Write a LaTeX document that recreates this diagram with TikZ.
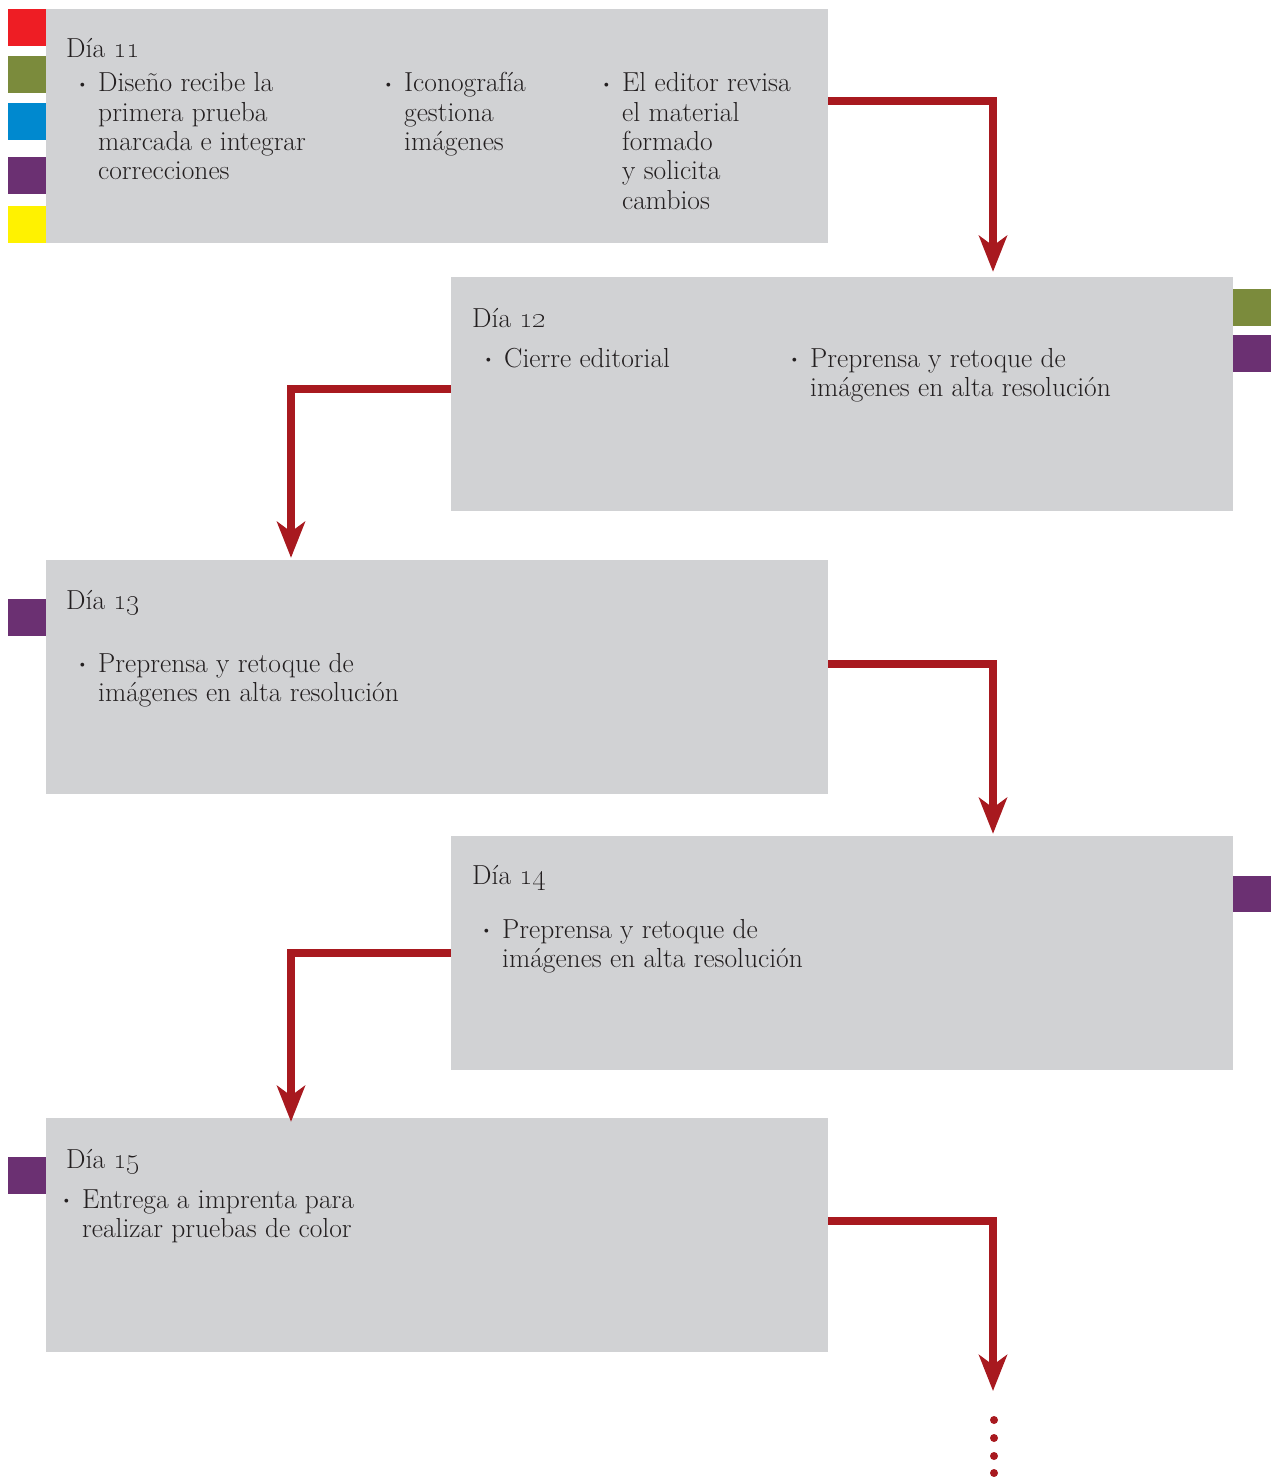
\documentclass[tikz,border=0pt]{standalone}
\usetikzlibrary{arrows.meta}
\definecolor{boxgray}{HTML}{D1D2D4}
\definecolor{arrred}{HTML}{A8191F}
\definecolor{sqred}{HTML}{EE1D24}
\definecolor{sqgreen}{HTML}{7B8B3C}
\definecolor{sqblue}{HTML}{0089CF}
\definecolor{sqpurple}{HTML}{6B3072}
\definecolor{sqyellow}{HTML}{FFF200}
\definecolor{txtcol}{HTML}{231F20}
\newcommand{\bitem}[1]{\makebox[18pt][l]{\hspace*{-3pt}\raisebox{3.5pt}{\fontsize{14}{14}\selectfont\textbullet}}\begin{tabular}[t]{@{}l@{}}#1\end{tabular}}
\begin{document}
\begin{tikzpicture}[x=1pt,y=-1pt,
  daybox/.style={fill=boxgray,draw=none,minimum width=782pt,minimum height=234pt,inner sep=0pt},
  txt/.style={anchor=base west,inner sep=0pt,text=txtcol,font=\fontsize{27.5}{29.3}\selectfont},
  arr/.style={draw=arrred,line width=8pt,line join=miter,-{Stealth[length=36pt,width=28pt,inset=10pt]}},
  sq/.style={fill=#1,draw=none}]
\useasboundingbox (0,0) rectangle (1277,1477);
% boxes
\node[daybox] (d11) at (437,126) {};
\node[daybox] (d12) at (842,394) {};
\node[daybox] (d13) at (437,677) {};
\node[daybox] (d14) at (842,953) {};
\node[daybox] (d15) at (437,1235) {};
% colour squares
\fill[sq=sqred] (8,9) rectangle (46,46);
\fill[sq=sqgreen] (8,56) rectangle (46,93);
\fill[sq=sqblue] (8,103) rectangle (46,140);
\fill[sq=sqpurple] (8,157) rectangle (46,194);
\fill[sq=sqyellow] (8,206) rectangle (46,243);
\fill[sq=sqgreen] (1233,289) rectangle (1271,326);
\fill[sq=sqpurple] (1233,335) rectangle (1271,372);
\fill[sq=sqpurple] (8,599) rectangle (46,636);
\fill[sq=sqpurple] (1233,876) rectangle (1271,912);
\fill[sq=sqpurple] (8,1157) rectangle (46,1194);
% texts
\node[txt] (t11) at (66,58) {Día \oldstylenums{11}};
\node[txt] (t11a) at (80,92) {\bitem{Diseño recibe la\\primera prueba\\marcada e integrar\\correcciones}};
\node[txt] (t11b) at (386,92) {\bitem{Iconografía\\gestiona\\imágenes}};
\node[txt] (t11c) at (604,92) {\bitem{El editor revisa\\el material\\formado\\y solicita\\cambios}};
\node[txt] (t12) at (472,327) {Día \oldstylenums{12}};
\node[txt] (t12a) at (486,367) {\bitem{Cierre editorial}};
\node[txt] (t12b) at (792,367) {\bitem{Preprensa y retoque de\\imágenes en alta resolución}};
\node[txt] (t13) at (66,609) {Día \oldstylenums{13}};
\node[txt] (t13a) at (80,672) {\bitem{Preprensa y retoque de\\imágenes en alta resolución}};
\node[txt] (t14) at (472,884) {Día \oldstylenums{14}};
\node[txt] (t14a) at (484,938) {\bitem{Preprensa y retoque de\\imágenes en alta resolución}};
\node[txt] (t15) at (66,1168) {Día \oldstylenums{15}};
\node[txt] (t15a) at (64,1208) {\bitem{Entrega a imprenta para\\realizar pruebas de color}};
% connectors
\coordinate (end) at (993,1391);
\draw[arr] ([yshift=25pt]d11.east) -| ([xshift=151pt,yshift=5pt]d12.north);
\draw[arr] ([yshift=5pt]d12.west) -| ([xshift=-146pt,yshift=2pt]d13.north);
\draw[arr] ([yshift=13pt]d13.east) -| ([xshift=151pt,yshift=2pt]d14.north);
\draw[arr] (d14.west) -| ([xshift=-146pt,yshift=-4pt]d15.north);
\draw[arr] ([yshift=14pt]d15.east) -| (end);
% dots
\foreach \yy in {1420,1438,1456,1473} \fill[arrred] (994,\yy) circle (4);
\end{tikzpicture}
\end{document}
